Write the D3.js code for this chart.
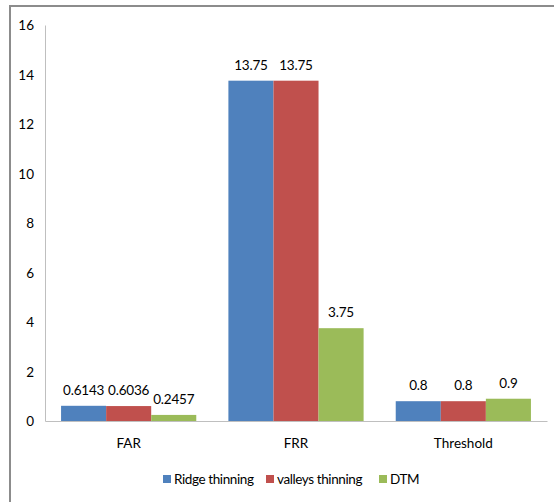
<!DOCTYPE html>
<html>
<head>
<meta charset="utf-8">
<script src="https://cdn.jsdelivr.net/npm/d3@7"></script>
<style>
  body { margin: 0; background: #fff; }
  svg text { font-family: Lato, "Open Sans", sans-serif; fill: #000; }
</style>
</head>
<body>
<div id="chart"></div>
<script>
// chart data
var categories = ["FAR", "FRR", "Threshold"];
var seriesNames = ["Ridge thinning", "valleys thinning", "DTM"];
var ridgeValues = [0.6143, 13.75, 0.8];
var valleyValues = [0.6036, 13.75, 0.8];
var dtmValues = [0.2457, 3.75, 0.9];
var valueLabels = [["0.6143", "13.75", "0.8"], ["0.6036", "13.75", "0.8"], ["0.2457", "3.75", "0.9"]];
var yTicks = [0, 2, 4, 6, 8, 10, 12, 14, 16];

var colors = ["#4F81BD", "#C0504D", "#9BBB59"];
var allValues = [ridgeValues, valleyValues, dtmValues];

var width = 554, height = 502;
var plotLeft = 45, plotRight = 547, plotTop = 25, plotBottom = 421;
var fs = "13.5px";

var svg = d3.select("#chart").append("svg")
    .attr("width", width)
    .attr("height", height);

// outer frame (cut off at right/bottom like the picture)
svg.append("rect")
    .attr("x", 10).attr("y", 6)
    .attr("width", 600).attr("height", 600)
    .attr("fill", "none")
    .attr("stroke", "#8c8c8c")
    .attr("stroke-width", 2);

var y = d3.scaleLinear().domain([0, 16]).range([plotBottom, plotTop]);
var x0 = d3.scaleBand().domain(categories).range([plotLeft, plotRight])
    .paddingInner(0.192).paddingOuter(0.096);
var x1 = d3.scaleBand().domain(d3.range(seriesNames.length)).range([0, x0.bandwidth()]);

// y axis
var yAxis = svg.append("g")
    .attr("transform", "translate(" + plotLeft + ",0)")
    .call(d3.axisLeft(y).tickValues(yTicks).tickSize(0).tickPadding(11));
yAxis.select(".domain").attr("stroke", "#bfbfbf");
yAxis.selectAll("text").style("font-size", fs).attr("dy", "0.35em");

// bars
var rows = [];
for (var s = 0; s < allValues.length; s++) {
    for (var c = 0; c < categories.length; c++) {
        rows.push({ s: s, cat: categories[c], v: allValues[s][c], label: valueLabels[s][c] });
    }
}

svg.selectAll("rect.bar")
    .data(rows)
    .enter()
    .append("rect")
    .attr("class", "bar")
    .attr("x", function(d) { return x0(d.cat) + x1(d.s); })
    .attr("y", function(d) { return y(d.v); })
    .attr("width", x1.bandwidth())
    .attr("height", function(d) { return plotBottom - y(d.v); })
    .attr("fill", function(d) { return colors[d.s]; });

svg.selectAll("text.val")
    .data(rows)
    .enter()
    .append("text")
    .attr("class", "val")
    .attr("x", function(d) { return x0(d.cat) + x1(d.s) + x1.bandwidth() / 2; })
    .attr("y", function(d) { return y(d.v) - 11; })
    .attr("text-anchor", "middle")
    .style("font-size", fs)
    .style("letter-spacing", "-0.2px")
    .text(function(d) { return d.label; });

// x axis
var xAxis = svg.append("g")
    .attr("transform", "translate(0," + plotBottom + ")")
    .call(d3.axisBottom(x0).tickSize(0).tickPadding(17));
xAxis.select(".domain").attr("stroke", "#bfbfbf");
xAxis.selectAll("text").style("font-size", fs);

// legend
var legendX = [163, 266, 379];
var legend = svg.selectAll("g.leg")
    .data(seriesNames)
    .enter()
    .append("g")
    .attr("class", "leg")
    .attr("transform", function(d, i) { return "translate(" + legendX[i] + ",475)"; });
legend.append("rect")
    .attr("width", 8).attr("height", 8)
    .attr("fill", function(d, i) { return colors[i]; });
legend.append("text")
    .attr("x", 11).attr("y", 4)
    .attr("dy", "0.35em")
    .style("font-size", fs)
    .style("letter-spacing", "-0.4px")
    .text(function(d) { return d; });
</script>
</body>
</html>
